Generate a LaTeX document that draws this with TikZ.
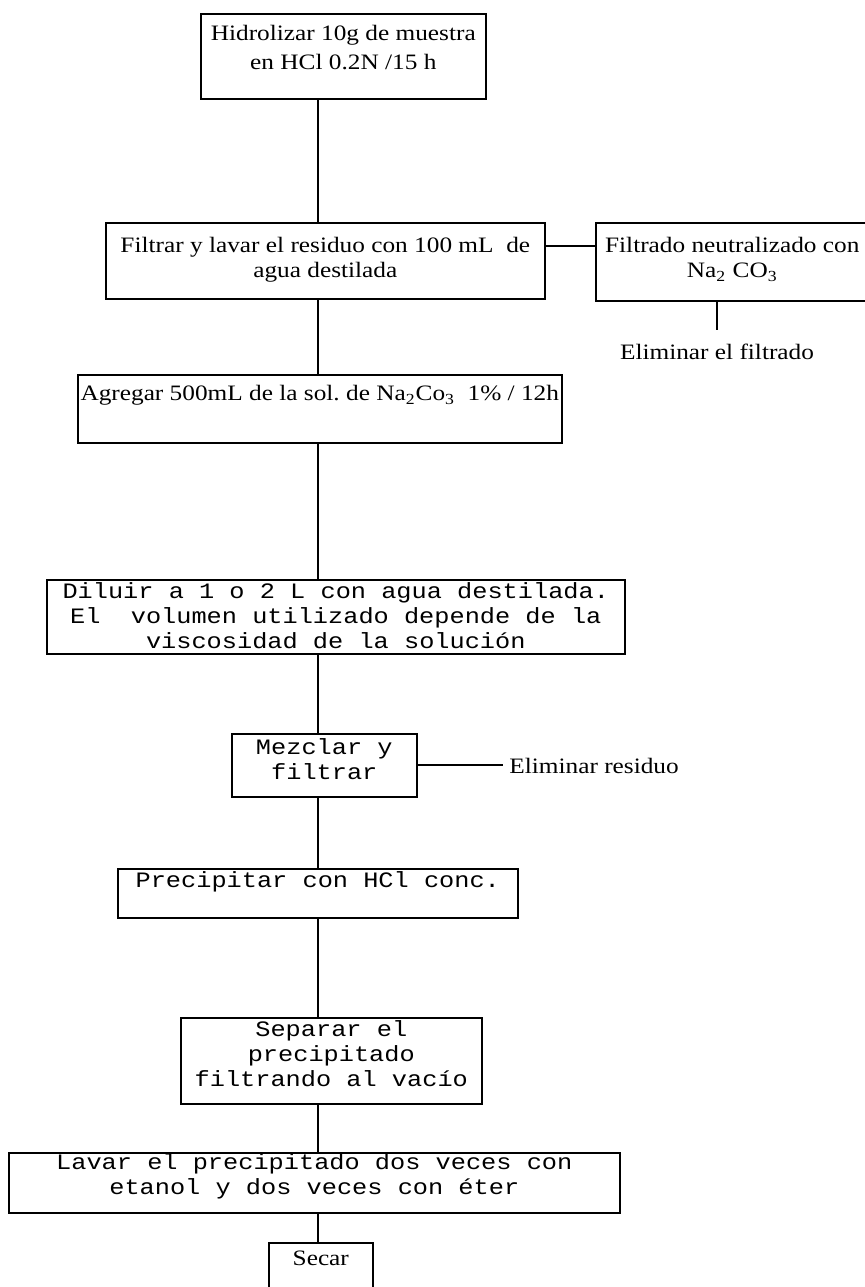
\documentclass[tikz,border=0pt]{standalone}
\usepackage{fontspec}
\setmainfont{Liberation Serif}[FakeStretch=1.15]
\setmonofont{Liberation Mono}[FakeStretch=1.15]
\usepackage{tikz}
\frenchspacing

\begin{document}
\begin{tikzpicture}[x=0.5pt, y=-0.5pt,
    font=\fontsize{11}{12.5}\selectfont,
    stepbox/.style={draw, line width=0.8pt, inner sep=0pt, anchor=north west, align=center},
    mono/.style={font=\ttfamily\fontsize{11}{12.5}\selectfont},
    link/.style={line width=1pt}]
    \clip (0,0) rectangle (865,1287);
    \coordinate (spine) at (318,0);

    \node[stepbox, minimum width=142.5pt, text height=28pt, text depth=14.5pt] at (200,13) (hidro) {Hidrolizar 10g de muestra\\[2pt]en HCl 0.2N /15 h};
    \node[stepbox, minimum width=219.5pt, text height=27.5pt, text depth=10.5pt] at (105,222) (filtrar) {Filtrar y lavar el residuo con 100 mL\ \ de\\agua destilada};
    \node[stepbox, minimum width=136.5pt, text height=27.5pt, text depth=11.5pt] at (595,222) (neutral) {Filtrado neutralizado con\\Na\textsubscript{2} CO\textsubscript{3}};
    \node[inner ysep=7pt] at (717,352) (elimfil) {Eliminar el filtrado};
    \node[stepbox, minimum width=242pt, text height=13pt, text depth=21pt] at (77,374) (agregar) {Agregar 500mL de la sol. de Na\textsubscript{2}Co\textsubscript{3}\ \ 1\% / 12h};
    \node[stepbox, mono, minimum width=289pt, text height=34.5pt, text depth=2.5pt] at (46,579) (diluir) {Diluir a 1 o 2 L con agua destilada.\\El\ \ volumen utilizado depende de la\\viscosidad de la solución};
    \node[stepbox, mono, minimum width=92.5pt, text height=23pt, text depth=8.5pt] at (231,733) (mezclar) {Mezclar y\\filtrar};
    \node[anchor=west, inner sep=3pt] at (503,766) (elimres) {Eliminar residuo};
    \node[stepbox, mono, minimum width=200pt, text height=9.5pt, text depth=15pt] at (117,868) (precip) {Precipitar con HCl conc.};
    \node[stepbox, mono, minimum width=150.5pt, text height=34.5pt, text depth=8.5pt] at (180,1017) (separar) {Separar el\\precipitado\\filtrando al vacío};
    \node[stepbox, mono, minimum width=305.5pt, text height=21pt, text depth=9pt] at (8,1152) (lavar) {Lavar el precipitado dos veces con\\etanol y dos veces con éter};
    \node[stepbox, minimum width=52pt, text height=11.5pt, text depth=18.5pt] at (268,1242) (secar) {Secar};

    \draw[link] (hidro.south -| spine) -- (filtrar.north -| spine);
    \draw[link] ([yshift=7.5pt]filtrar.east) -- ([yshift=7.5pt]filtrar.east -| neutral.west);
    \draw[link] (elimfil.north |- neutral.south) -- (elimfil.north);
    \draw[link] (filtrar.south -| spine) -- (agregar.north -| spine);
    \draw[link] (agregar.south -| spine) -- (diluir.north -| spine);
    \draw[link] (diluir.south -| spine) -- (mezclar.north -| spine);
    \draw[link] (mezclar.east) -- (mezclar.east -| elimres.west);
    \draw[link] (mezclar.south -| spine) -- (precip.north -| spine);
    \draw[link] (precip.south -| spine) -- (separar.north -| spine);
    \draw[link] (separar.south -| spine) -- (lavar.north -| spine);
    \draw[link] (lavar.south -| spine) -- (secar.north -| spine);
\end{tikzpicture}
\end{document}
